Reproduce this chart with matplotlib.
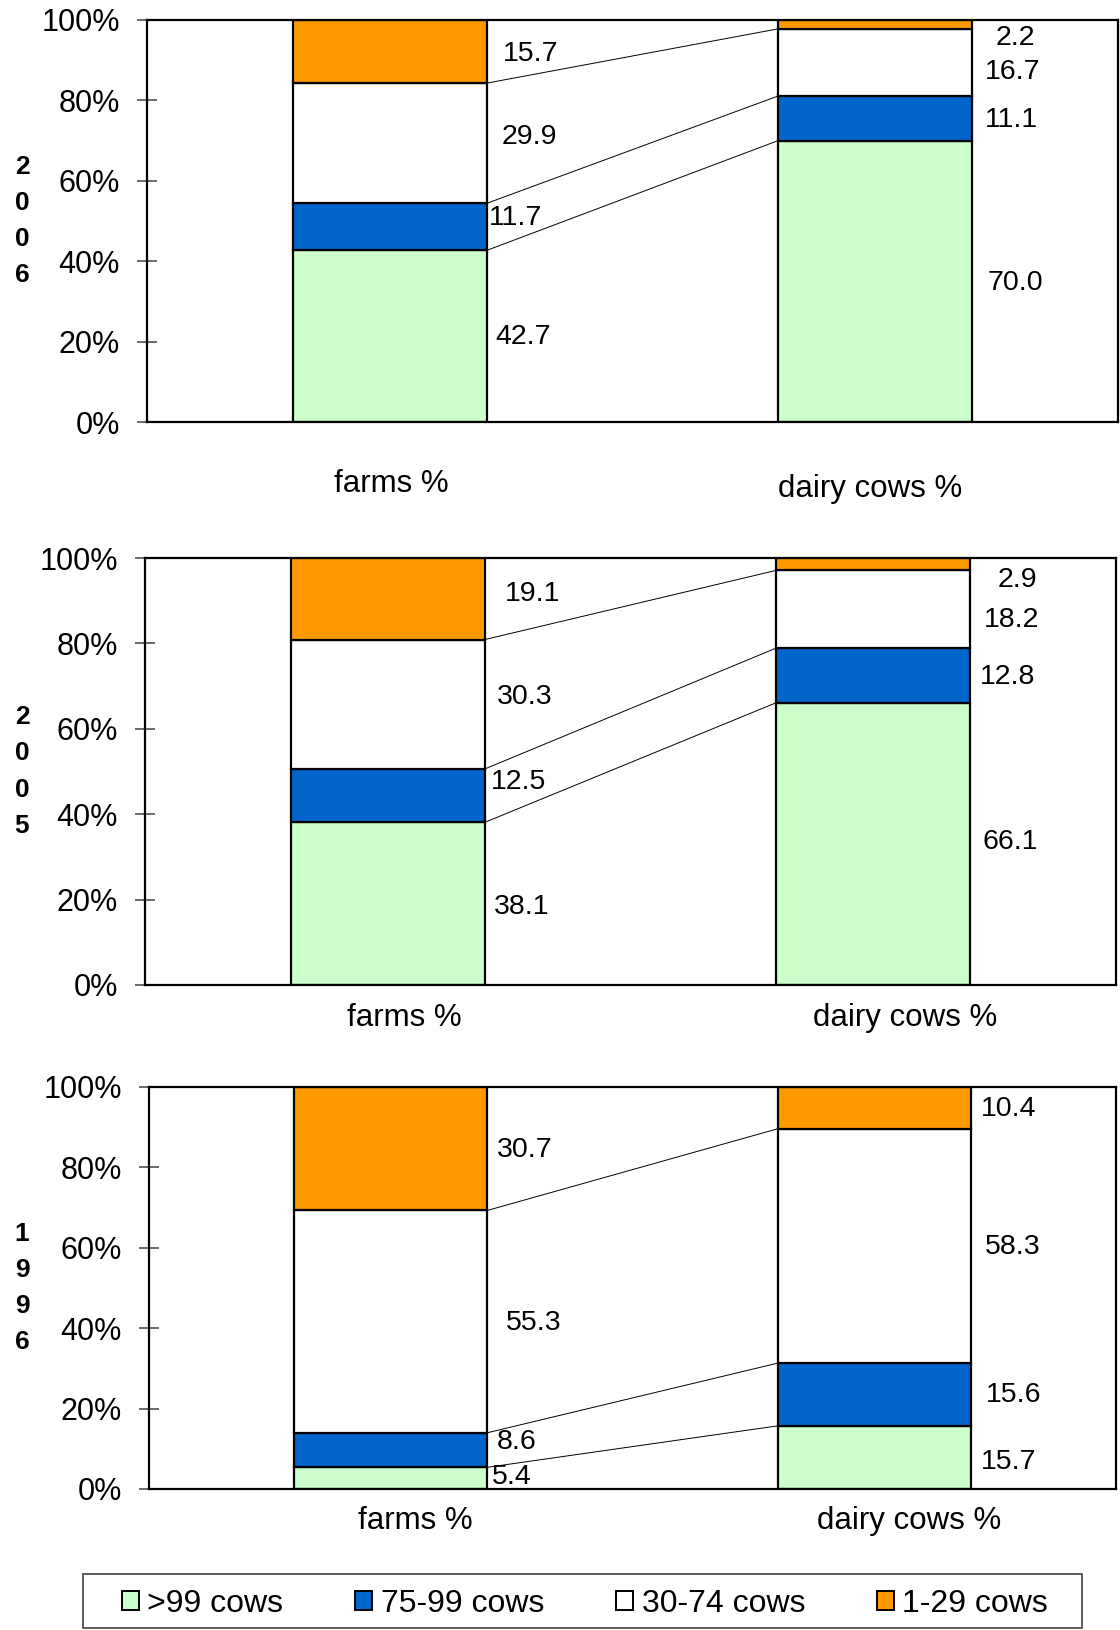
import matplotlib
matplotlib.use('Agg')
import matplotlib.pyplot as plt
from matplotlib.patches import Patch, Rectangle

plt.rcParams['font.family'] = ['Liberation Sans', 'DejaVu Sans']

# --- Data ---
categories = ['farms %', 'dairy cows %']
size_classes = ['>99 cows', '75-99 cows', '30-74 cows', '1-29 cows']
colors = ['#CCFFCC', '#0066CC', '#FFFFFF', '#FF9900']

# shares per size class, bottom-up (>99, 75-99, 30-74, 1-29)
farms_2006 = [42.7, 11.7, 29.9, 15.7]
cows_2006 = [70.0, 11.1, 16.7, 2.2]
farms_2005 = [38.1, 12.5, 30.3, 19.1]
cows_2005 = [66.1, 12.8, 18.2, 2.9]
farms_1996 = [5.4, 8.6, 55.3, 30.7]
cows_1996 = [15.7, 15.6, 58.3, 10.4]

yticks = [0, 20, 40, 60, 80, 100]

# --- Layout (pixels on the 1120x1630 canvas) ---
W, H = 1120, 1630
DPI = 100
PX = 72 / DPI  # pixel -> points

bar_pos = [0, 1]
bar_width = 0.4

# panel: year, farms, cows, axes box (left, top, right, bottom) in px,
# label nudges (dx px from bar edge, dy in %) bottom-up, category label offsets (px)
panels = [
    dict(year='2006', farms=farms_2006, cows=cows_2006, box=(147, 20, 1118, 422),
         f_dx=[36, 29, 43, 44], f_dy=[0.35, 2.65, 1.95, 0.0],
         c_dx=[43, 39, 40, 43], c_dy=[0.1, 0.15, -1.85, -3.0],
         cat_off=[(2, 62), (-5, 67)]),
    dict(year='2005', farms=farms_2005, cows=cows_2005, box=(145, 558, 1116, 985),
         f_dx=[37, 34, 40, 48], f_dy=[-0.25, 3.65, 2.05, 1.5],
         c_dx=[40, 37, 41, 47], c_dy=[0.85, 0.2, -2.1, -3.15],
         cat_off=[(17, 33), (32, 33)]),
    dict(year='1996', farms=farms_1996, cows=cows_1996, box=(149, 1087, 1116, 1489),
         f_dx=[24, 29, 46, 37], f_dy=[0.9, 2.4, 0.25, 0.1],
         c_dx=[38, 43, 42, 38], c_dy=[-0.65, 0.3, 0.25, 0.3],
         cat_off=[(25, 32), (35, 32)]),
]

fig = plt.figure(figsize=(W / DPI, H / DPI), dpi=DPI)

for p in panels:
    l, t, r, b = p['box']
    ax = fig.add_axes([l / W, (H - b) / H, (r - l) / W, (b - t) / H])

    series = [p['farms'], p['cows']]
    tops = []
    for k, vals in enumerate(series):
        bottom = 0.0
        cum = []
        for v, c in zip(vals, colors):
            ax.bar(bar_pos[k], v, bar_width, bottom=bottom, color=c,
                   edgecolor='black', linewidth=1.6, zorder=2)
            bottom += v
            cum.append(bottom)
        tops.append(cum)

    # connector lines between segment boundaries
    x0 = bar_pos[0] + bar_width / 2
    x1 = bar_pos[1] - bar_width / 2
    for i in range(3):
        ax.plot([x0, x1], [tops[0][i], tops[1][i]], color='black', lw=0.7, zorder=1)

    # value labels
    for k, vals in enumerate(series):
        dxs = p['f_dx'] if k == 0 else p['c_dx']
        dys = p['f_dy'] if k == 0 else p['c_dy']
        edge = bar_pos[k] + bar_width / 2
        bottom = 0.0
        for v, dx, dy in zip(vals, dxs, dys):
            ax.annotate(f'{v:.1f}', xy=(edge, bottom + v / 2 + dy),
                        xytext=(dx * PX, -2 * PX), textcoords='offset points',
                        ha='center', va='center', fontsize=20.5)
            bottom += v

    # category labels
    for k, name in enumerate(categories):
        dx, dy = p['cat_off'][k]
        ax.annotate(name, xy=(bar_pos[k], 0), xytext=(dx * PX, -dy * PX),
                    textcoords='offset points', ha='center', va='center',
                    fontsize=22.5, annotation_clip=False)

    ax.set_xlim(-0.5, 1.5)
    ax.set_ylim(0, 100)
    ax.set_xticks([])
    ax.set_yticks(yticks)
    ax.set_yticklabels([f'{v}%' for v in yticks])
    ax.tick_params(axis='y', direction='inout', length=15, width=1.2,
                   color='#505050', labelsize=22, pad=12)
    for s in ax.spines.values():
        s.set_linewidth(1.6)
        s.set_color('black')

    # year label, one digit per line
    fig.text(22 / W, (H - (t + b) / 2) / H, '\n'.join(p['year']),
             ha='center', va='center', fontsize=19, fontweight='bold',
             linespacing=1.64)

# legend
fig.patches.append(Rectangle((83 / W, (H - 1628) / H), 999 / W, 54 / H,
                             transform=fig.transFigure, fill=False,
                             edgecolor='#404040', lw=1.2))
handles = [Patch(facecolor=c, edgecolor='black', lw=1.4) for c in colors]
fig.legend(handles, size_classes, loc='center',
           bbox_to_anchor=(585 / W, (H - 1604) / H), ncol=4, frameon=False,
           fontsize=23, handlelength=0.53, handleheight=0.53,
           handletextpad=0.27, columnspacing=2.25, borderaxespad=0)

fig.savefig('out.png', dpi=DPI)
